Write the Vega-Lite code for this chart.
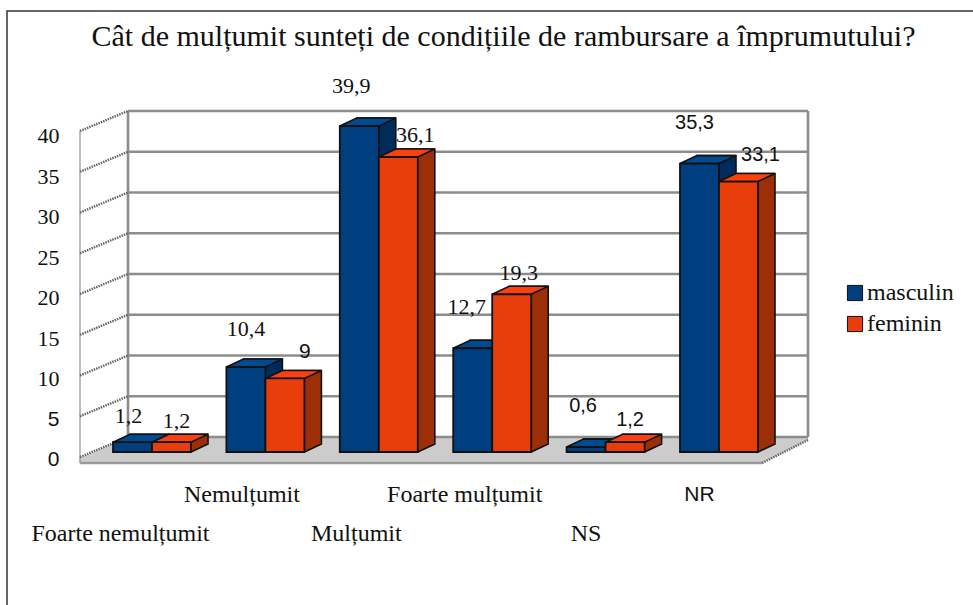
{"$schema":"https://vega.github.io/schema/vega-lite/v6.json","width":973,"height":605,"padding":0,"autosize":{"type":"none"},"background":"white","config":{"view":{"stroke":null},"locale":{"number":{"decimal":",","thousands":".","grouping":[3],"currency":["","€"]}}},
"title":{"text":"Cât de mulțumit sunteți de condițiile de rambursare a împrumutului?","font":"Liberation Serif","fontSize":30,"fontWeight":"normal","color":"#111","anchor":"middle","baseline":"alphabetic","offset":0,"dy":76,"dx":17},
"datasets":{"bars":[
{"cat":"Foarte nemulțumit","sex":"masculin","value":1.2},{"cat":"Foarte nemulțumit","sex":"feminin","value":1.2},
{"cat":"Nemulțumit","sex":"masculin","value":10.4},{"cat":"Nemulțumit","sex":"feminin","value":9},
{"cat":"Mulțumit","sex":"masculin","value":39.9},{"cat":"Mulțumit","sex":"feminin","value":36.1},
{"cat":"Foarte mulțumit","sex":"masculin","value":12.7},{"cat":"Foarte mulțumit","sex":"feminin","value":19.3},
{"cat":"NS","sex":"masculin","value":0.6},{"cat":"NS","sex":"feminin","value":1.2},
{"cat":"NR","sex":"masculin","value":35.3},{"cat":"NR","sex":"feminin","value":33.1}],
"levels":[{"level":0},{"level":5},{"level":10},{"level":15},{"level":20},{"level":25},{"level":30},{"level":35},{"level":40}]},
"resolve":{"scale":{"x":"independent","y":"independent"}},
"layer":[
{"data":{"name":"levels"},"encoding":{"x":{"datum":0,"type":"quantitative","scale":{"domain":[0,1],"range":[128,808]},"axis":null},"y":{"field":"level","type":"quantitative","scale":{"domain":[-20.61,53.62],"range":[605,0]},"axis":null}},
"layer":[
{"transform":[{"filter":"datum.level==0"}],"mark":{"type":"point","shape":"M-48,21L0,0L680,0L680,3L634,26L-48,26Z","size":4,"filled":true,"fill":"#cccccc","strokeWidth":0,"opacity":1}},
{"transform":[{"filter":"datum.level==0"}],"mark":{"type":"point","shape":"M-48,26L634,26","size":4,"filled":false,"stroke":"#9a9a9a","strokeWidth":2.5,"opacity":1}},
{"mark":{"type":"rule","color":"#8c8c8c","strokeWidth":2.6},"encoding":{"x2":{"datum":1}}},
{"transform":[{"filter":"datum.level==0"}],"mark":{"type":"rule","color":"#8c8c8c","strokeWidth":2.6},"encoding":{"y":{"datum":40,"type":"quantitative"},"y2":{"datum":0}}},
{"transform":[{"filter":"datum.level==0"}],"mark":{"type":"rule","color":"#8c8c8c","strokeWidth":2.6},"encoding":{"x":{"datum":1,"type":"quantitative"},"y":{"datum":40,"type":"quantitative"},"y2":{"datum":0}}},
{"transform":[{"filter":"datum.level==0"}],"mark":{"type":"point","shape":"M-48,20L-48,26","size":4,"filled":false,"stroke":"#9a9a9a","strokeWidth":1.5,"opacity":1}},
{"transform":[{"filter":"datum.level==40"}],"mark":{"type":"point","shape":"M-48,20L-48,346","size":4,"filled":false,"stroke":"#a8a8a8","strokeWidth":1.5,"opacity":1}},
{"mark":{"type":"point","shape":"M-48,20L0,0","size":4,"filled":false,"stroke":"#666666","strokeWidth":2.4,"strokeDash":[1.5,1],"opacity":1}},
{"transform":[{"filter":"datum.level==0"}],"mark":{"type":"point","shape":"M634,26L680,3","size":4,"filled":false,"stroke":"#666666","strokeWidth":2.4,"strokeDash":[1.5,1],"opacity":1},"encoding":{}},
{"transform":[{"filter":"datum.level==40"}],"mark":{"type":"point","shape":"M-121,494L-121,-100L845,-100","size":4,"filled":false,"stroke":"#333333","strokeWidth":1.5,"opacity":1}}
]},
{"data":{"name":"bars"},"mark":{"type":"bar","fill":{"expr":"datum.sex==='masculin'?'#002b5a':'#9c2e08'"},"stroke":"#111111","strokeWidth":1.6},"encoding":{"x":{"field":"cat","type":"nominal","sort":null,"axis":null,"scale":{"type":"band","domain":["Foarte nemulțumit","Nemulțumit","Mulțumit","Foarte mulțumit","NS","NR"],"range":[130,775],"paddingInner":0.312,"paddingOuter":0}},"xOffset":{"field":"sex","type":"nominal","scale":{"domain":["masculin","feminin"],"paddingInner":0,"paddingOuter":0}},"y":{"field":"value","type":"quantitative","axis":null,"scale":{"domain":[-18.727,55.324],"range":[597,-8]}},"y2":{"datum":0}}},
{"data":{"name":"bars"},"encoding":{"x":{"field":"cat","type":"nominal","sort":null,"axis":null,"scale":{"type":"band","domain":["Foarte nemulțumit","Nemulțumit","Mulțumit","Foarte mulțumit","NS","NR"],"range":[113,758],"paddingInner":0.312,"paddingOuter":0}},"xOffset":{"field":"sex","type":"nominal","scale":{"domain":["masculin","feminin"],"paddingInner":0,"paddingOuter":0}},"y":{"field":"value","type":"quantitative","axis":null,"scale":{"domain":[-18.727,55.324],"range":[605,0]}}},
"layer":[
{"mark":{"type":"point","shape":"M19.5,0L36.5,-8L36.5,-9.5L19.5,-9.5Z","size":4,"filled":true,"strokeWidth":0,"opacity":1,"fill":{"expr":"datum.sex==='masculin'?'#002b5a':'#9c2e08'"}},"encoding":{"y":{"datum":0,"type":"quantitative"}}},
{"mark":{"type":"point","shape":"M19.5,0L36.5,-8","size":4,"filled":false,"strokeWidth":1.6,"stroke":"#111111","opacity":1},"encoding":{"y":{"datum":0,"type":"quantitative"}}},
{"mark":{"type":"point","shape":"M-19.5,0L19.5,0L36.5,-8L-2.5,-8Z","size":4,"filled":true,"stroke":"#111111","strokeWidth":1.6,"opacity":1,"fill":{"expr":"datum.sex==='masculin'?'#004a90':'#fb420e'"}}},
{"mark":{"type":"bar","stroke":"#111111","strokeWidth":1.8},"encoding":{"y2":{"datum":0},"color":{"field":"sex","type":"nominal","sort":null,"scale":{"domain":["masculin","feminin"],"range":["#003f7f","#e83e0c"]},"legend":{"orient":"none","legendX":843,"legendY":281,"title":null,"symbolType":"square","symbolSize":230,"symbolStrokeWidth":1,"symbolStrokeColor":"#111","labelFont":"Liberation Serif","labelFontSize":24,"labelColor":"#111","labelOffset":0,"rowPadding":7,"labelBaseline":"middle"}}}},
{"transform":[{"filter":"datum.cat=='Foarte nemulțumit'&&datum.sex=='masculin'"}],"mark":{"type":"text","font":"Liberation Serif","fontSize":22,"color":"#111","dx":-4,"dy":-26,"baseline":"middle"},"encoding":{"text":{"field":"value","format":".1~f"}}},
{"transform":[{"filter":"datum.cat=='Foarte nemulțumit'&&datum.sex=='feminin'"}],"mark":{"type":"text","font":"Liberation Serif","fontSize":22,"color":"#111","dx":5,"dy":-21,"baseline":"middle"},"encoding":{"text":{"field":"value","format":".1~f"}}},
{"transform":[{"filter":"datum.cat=='Nemulțumit'&&datum.sex=='masculin'"}],"mark":{"type":"text","font":"Liberation Serif","fontSize":22,"color":"#111","dx":0,"dy":-38,"baseline":"middle"},"encoding":{"text":{"field":"value","format":".1~f"}}},
{"transform":[{"filter":"datum.cat=='Nemulțumit'&&datum.sex=='feminin'"}],"mark":{"type":"text","font":"Liberation Sans","fontSize":21,"color":"#111","dx":20,"dy":-26,"baseline":"middle"},"encoding":{"text":{"field":"value","format":".1~f"}}},
{"transform":[{"filter":"datum.cat=='Mulțumit'&&datum.sex=='masculin'"}],"mark":{"type":"text","font":"Liberation Serif","fontSize":22,"color":"#111","dx":-8,"dy":-40,"baseline":"middle"},"encoding":{"text":{"field":"value","format":".1~f"}}},
{"transform":[{"filter":"datum.cat=='Mulțumit'&&datum.sex=='feminin'"}],"mark":{"type":"text","font":"Liberation Serif","fontSize":22,"color":"#111","dx":17,"dy":-22,"baseline":"middle"},"encoding":{"text":{"field":"value","format":".1~f"}}},
{"transform":[{"filter":"datum.cat=='Foarte mulțumit'&&datum.sex=='masculin'"}],"mark":{"type":"text","font":"Liberation Serif","fontSize":22,"color":"#111","dx":-6,"dy":-41,"baseline":"middle"},"encoding":{"text":{"field":"value","format":".1~f"}}},
{"transform":[{"filter":"datum.cat=='Foarte mulțumit'&&datum.sex=='feminin'"}],"mark":{"type":"text","font":"Liberation Serif","fontSize":22,"color":"#111","dx":7,"dy":-21,"baseline":"middle"},"encoding":{"text":{"field":"value","format":".1~f"}}},
{"transform":[{"filter":"datum.cat=='NS'&&datum.sex=='masculin'"}],"mark":{"type":"text","font":"Liberation Sans","fontSize":20,"color":"#111","dx":-3,"dy":-41,"baseline":"middle"},"encoding":{"text":{"field":"value","format":".1~f"}}},
{"transform":[{"filter":"datum.cat=='NS'&&datum.sex=='feminin'"}],"mark":{"type":"text","font":"Liberation Sans","fontSize":20,"color":"#111","dx":5,"dy":-22,"baseline":"middle"},"encoding":{"text":{"field":"value","format":".1~f"}}},
{"transform":[{"filter":"datum.cat=='NR'&&datum.sex=='masculin'"}],"mark":{"type":"text","font":"Liberation Sans","fontSize":20,"color":"#111","dx":-5,"dy":-41,"baseline":"middle"},"encoding":{"text":{"field":"value","format":".1~f"}}},
{"transform":[{"filter":"datum.cat=='NR'&&datum.sex=='feminin'"}],"mark":{"type":"text","font":"Liberation Sans","fontSize":20,"color":"#111","dx":22,"dy":-27,"baseline":"middle"},"encoding":{"text":{"field":"value","format":".1~f"}}},
{"transform":[{"filter":"datum.sex=='masculin'&&datum.cat=='Foarte nemulțumit'"}],"mark":{"type":"text","font":"Liberation Serif","fontSize":24,"color":"#111","dx":-12,"dy":82,"baseline":"middle"},"encoding":{"y":{"datum":0,"type":"quantitative"},"text":{"field":"cat"}}},
{"transform":[{"filter":"datum.sex=='masculin'&&datum.cat=='Nemulțumit'"}],"mark":{"type":"text","font":"Liberation Serif","fontSize":24,"color":"#111","dx":-4,"dy":43,"baseline":"middle"},"encoding":{"y":{"datum":0,"type":"quantitative"},"text":{"field":"cat"}}},
{"transform":[{"filter":"datum.sex=='masculin'&&datum.cat=='Mulțumit'"}],"mark":{"type":"text","font":"Liberation Serif","fontSize":24,"color":"#111","dx":-3,"dy":82,"baseline":"middle"},"encoding":{"y":{"datum":0,"type":"quantitative"},"text":{"field":"cat"}}},
{"transform":[{"filter":"datum.sex=='masculin'&&datum.cat=='Foarte mulțumit'"}],"mark":{"type":"text","font":"Liberation Serif","fontSize":24,"color":"#111","dx":-8,"dy":43,"baseline":"middle"},"encoding":{"y":{"datum":0,"type":"quantitative"},"text":{"field":"cat"}}},
{"transform":[{"filter":"datum.sex=='masculin'&&datum.cat=='NS'"}],"mark":{"type":"text","font":"Liberation Serif","fontSize":24,"color":"#111","dx":0,"dy":82,"baseline":"middle"},"encoding":{"y":{"datum":0,"type":"quantitative"},"text":{"field":"cat"}}},
{"transform":[{"filter":"datum.sex=='masculin'&&datum.cat=='NR'"}],"mark":{"type":"text","font":"Liberation Sans","fontSize":21,"color":"#111","dx":0,"dy":43,"baseline":"middle"},"encoding":{"y":{"datum":0,"type":"quantitative"},"text":{"field":"cat"}}}
]},
{"data":{"name":"levels"},"mark":{"type":"rule","opacity":0},"encoding":{"y":{"field":"level","type":"quantitative","scale":{"domain":[-17.97,56.81],"range":[605,0]},"axis":{"values":[0,5,10,15,20,25,30,35,40],"title":null,"domain":false,"ticks":false,"grid":false,"offset":-59,"labelPadding":0,"labelFontSize":{"condition":{"test":"datum.value<=5","value":21},"value":22},"labelFont":{"condition":{"test":"datum.value<=5","value":"Liberation Sans"},"value":"Liberation Serif"},"labelColor":"#111","labelFlush":false}}}}
]}
